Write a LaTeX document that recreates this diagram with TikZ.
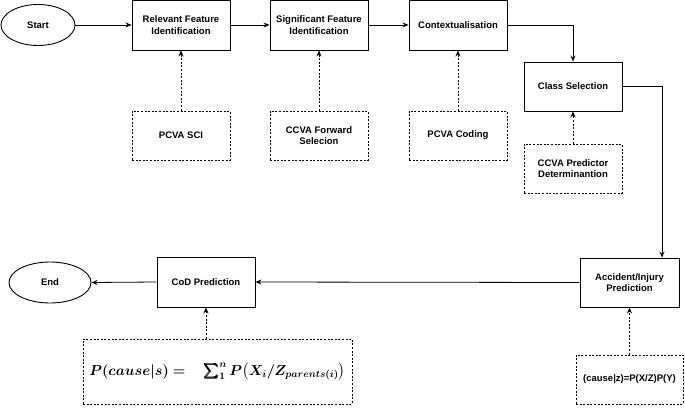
\documentclass[tikz,border=0pt]{standalone}
\usepackage[no-math]{fontspec}
\setmainfont{Liberation Sans}
\usepackage{amsmath}
\usepackage{bm}
\usetikzlibrary{arrows.meta,shapes.geometric,calc}
\newcommand{\myformula}{$\bm{P(cause\vert s)=}\quad\bm{\sum\nolimits_{1}^{n}P\bigl(X_i/Z_{parents(i)}\bigr)}$}
\begin{document}
\begin{tikzpicture}[x=1pt,y=-1pt,
  font=\fontsize{9.5}{11.5}\selectfont\bfseries,
  box/.style={draw, line width=0.9pt, rectangle, minimum width=98pt, minimum height=50pt, align=center, inner sep=1pt},
  dbox/.style={box, dash pattern=on 2pt off 1.6pt, line width=0.8pt},
  oval/.style={draw, line width=0.9pt, ellipse, inner sep=0pt},
  arr/.style={line width=0.8pt, -{Stealth[length=6pt,width=5pt]}},
  darr/.style={arr, dash pattern=on 2pt off 1.6pt}]
\useasboundingbox (0,0) rectangle (685,407);
% top row
\node[oval, minimum width=74pt, minimum height=41pt] (startn) at (38,25) {Start};
\node[box] (rel) at (181,25) {Relevant Feature\\Identification};
\node[box] (sig) at (319,25) {Significant Feature\\Identification};
\node[box] (ctx) at (458,25) {Contextualisation};
\node[box, minimum height=49pt] (cls) at (573,86.5) {Class Selection};
% supporting boxes
\node[dbox, minimum height=49pt] (sci) at (181,135.5) {PCVA SCI};
\node[dbox, minimum height=49pt] (fwd) at (319,135.5) {CCVA Forward\\Selecion};
\node[dbox, minimum height=49pt] (coding) at (458,135.5) {PCVA Coding};
\node[dbox, minimum height=49pt] (pred) at (573,168.5) {CCVA Predictor\\Determinantion};
% bottom row
\node[box, minimum width=99pt, minimum height=49pt] (acc) at (629.5,282.5) {Accident/Injury\\Prediction};
\node[box] (cod) at (206,282) {CoD Prediction};
\node[oval, minimum width=82pt, minimum height=41pt] (endn) at (50,282.5) {End};
\node[dbox, minimum width=269pt, minimum height=65pt, font=\fontsize{14}{17}\selectfont] (formula) at (217.5,371.5) {\myformula};
\node[dbox, minimum width=107pt, minimum height=49pt] (aform) at (629.5,379.5) {(cause|z)=P(X/Z)P(Y)};
% flow connectors
\draw[arr] (startn) -- (rel);
\draw[arr] (rel) -- (sig);
\draw[arr] (sig) -- (ctx);
\draw[arr] (ctx.east) -| (cls.north);
\draw[arr] (cls.east) -| ([xshift=32.5pt]acc.north);
\draw[arr] (acc.west) -- (cod.east);
\draw[arr] (cod.west) -- (endn.east);
% dashed connectors
\draw[darr] (sci) -- (rel);
\draw[darr] (fwd) -- (sig);
\draw[darr] (coding) -- (ctx);
\draw[darr] (pred) -- (cls);
\draw[darr] (aform) -- (acc);
\draw[darr] (cod.south |- formula.north) -- (cod.south);
\end{tikzpicture}
\end{document}
